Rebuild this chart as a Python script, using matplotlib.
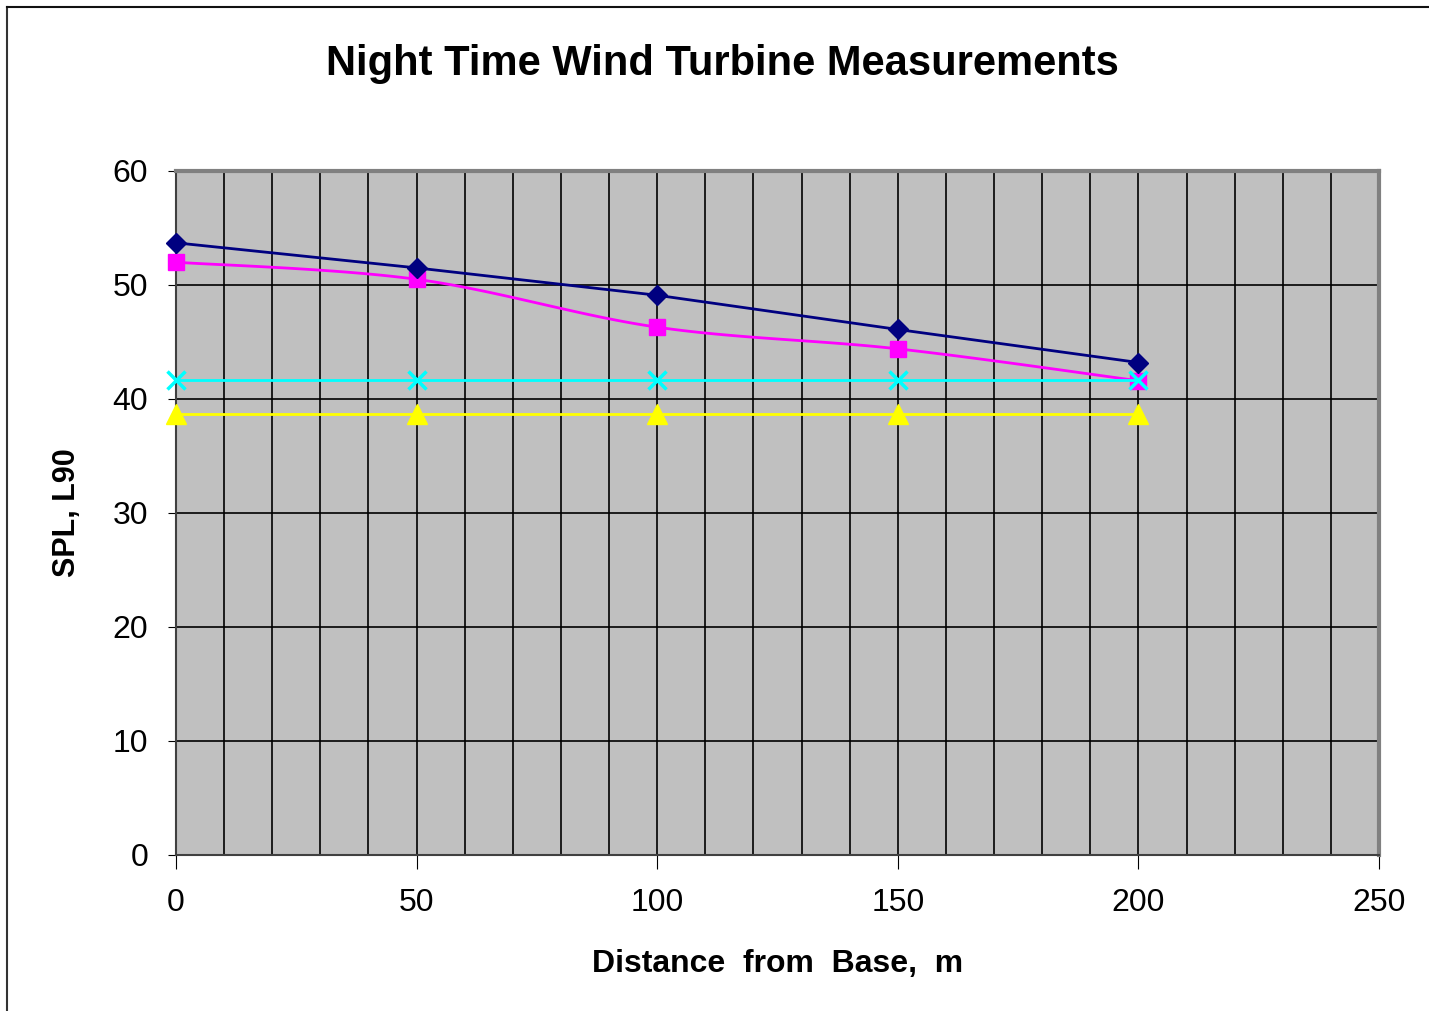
import matplotlib.pyplot as plt
import numpy as np
from matplotlib.lines import Line2D

plt.rcParams['font.family'] = ['Liberation Sans', 'DejaVu Sans']

# data
distance = [0, 50, 100, 150, 200]
spl_navy = [53.7, 51.5, 49.1, 46.1, 43.2]
spl_magenta = [52.0, 50.5, 46.3, 44.4, 41.6]
spl_cyan = [41.7, 41.7, 41.7, 41.7, 41.7]
spl_yellow = [38.7, 38.7, 38.7, 38.7, 38.7]


def smooth(x, y, n=30):
    # Excel-like smoothed line (Catmull-Rom through the points)
    x = np.asarray(x, float)
    y = np.asarray(y, float)
    px = np.concatenate([[x[0]], x, [x[-1]]])
    py = np.concatenate([[y[0]], y, [y[-1]]])
    xs, ys = [], []
    for i in range(1, len(px) - 2):
        t = np.linspace(0, 1, n)
        for p, out in ((px, xs), (py, ys)):
            p0, p1, p2, p3 = p[i - 1], p[i], p[i + 1], p[i + 2]
            out.extend(0.5 * (2 * p1 + (-p0 + p2) * t
                              + (2 * p0 - 5 * p1 + 4 * p2 - p3) * t ** 2
                              + (-p0 + 3 * p1 - 3 * p2 + p3) * t ** 3))
    return xs, ys


fig = plt.figure(figsize=(14.29, 10.11), dpi=100)
ax = fig.add_axes([176 / 1429, 156 / 1011, 1203 / 1429, 684 / 1011])
ax.set_facecolor('#C0C0C0')

ax.plot(distance, spl_navy, color='#000080', lw=2, marker='D', ms=10, zorder=5, clip_on=False)
sx, sy = smooth(distance, spl_magenta)
ax.plot(sx, sy, color='#FF00FF', lw=2, zorder=4)
ax.plot(distance, spl_magenta, ls='none', color='#FF00FF', marker='s', ms=11, zorder=4,
        clip_on=False)
ax.plot(distance, spl_cyan, color='#00FFFF', lw=2, marker='x', ms=13, mew=2.5, zorder=6,
        clip_on=False)
ax.plot(distance, spl_yellow, color='#FFFF00', lw=2, marker='^', ms=14, zorder=3, clip_on=False)

ax.set_xlim(0, 250)
ax.set_ylim(0, 60)
ax.set_xticks(range(0, 251, 50))
ax.set_yticks(range(0, 61, 10))
ax.set_xticks(range(0, 251, 10), minor=True)
ax.grid(True, which='both', axis='x', color='black', lw=1.2)
ax.grid(True, which='major', axis='y', color='black', lw=1.2)
ax.set_axisbelow(True)
ax.tick_params(axis='both', which='major', labelsize=23, direction='out', color='black')
ax.tick_params(axis='x', which='major', length=10, pad=14)
ax.tick_params(axis='y', which='major', length=6, pad=14)
ax.tick_params(axis='x', which='minor', length=0)

for s in ['top', 'right']:
    ax.spines[s].set_color('#808080')
    ax.spines[s].set_linewidth(3)
for s in ['left', 'bottom']:
    ax.spines[s].set_color('#404040')
    ax.spines[s].set_linewidth(1.5)

ax.set_xlabel('Distance  from  Base,  m', fontsize=23, fontweight='bold', labelpad=22)
ax.set_ylabel('SPL, L90', fontsize=22, fontweight='bold', labelpad=22)
fig.text(722 / 1429, 1 - 64 / 1011, 'Night Time Wind Turbine Measurements',
         fontsize=30, fontweight='bold', ha='center', va='center')

# outer chart frame (only top and left visible in the reference)
fig.add_artist(Line2D([7 / 1429, 7 / 1429], [0, 1 - 7 / 1011], color='#333333', lw=1.5,
                      transform=fig.transFigure))
fig.add_artist(Line2D([7 / 1429, 1], [1 - 7 / 1011, 1 - 7 / 1011], color='#111111', lw=1.5,
                      transform=fig.transFigure))

fig.savefig('out.png', dpi=100)
